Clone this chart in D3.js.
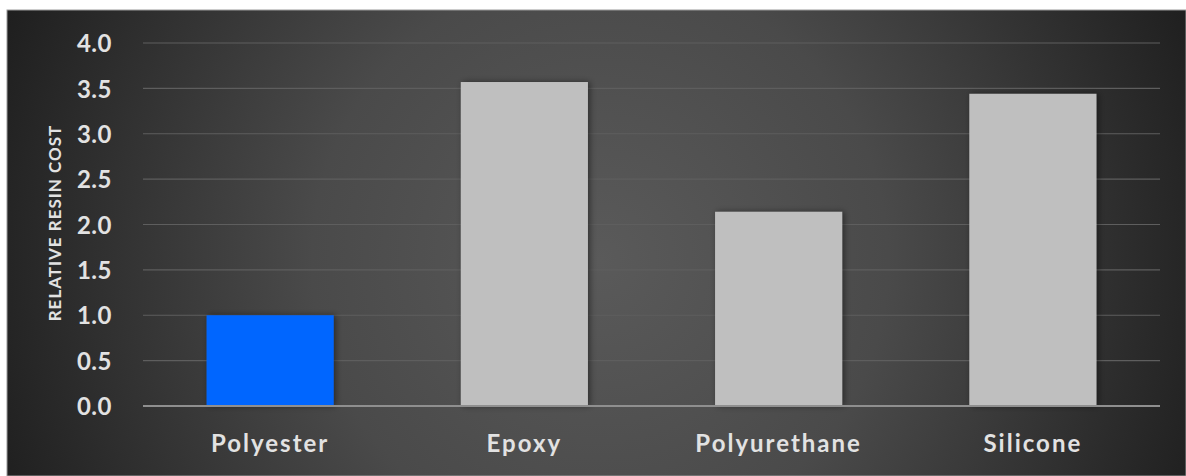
<!DOCTYPE html>
<html>
<head>
<meta charset="utf-8">
<script src="https://cdn.jsdelivr.net/npm/d3@7"></script>
<style>
  html, body { margin: 0; padding: 0; background: #fff; }
  svg { display: block; }
</style>
</head>
<body>
<svg id="chart"></svg>
<script>
// Daten
var categories = ['Polyester', 'Epoxy', 'Polyurethane', 'Silicone'];
var values = [1.0, 3.57, 2.14, 3.44];
var barColors = ['#0066ff', '#bfbfbf', '#bfbfbf', '#bfbfbf'];
var yTicks = [0, 0.5, 1, 1.5, 2, 2.5, 3, 3.5, 4];

var width = 1186, height = 476;
var plot = { left: 143, right: 1160, top: 43, bottom: 406 };
var font = 'Lato, "Open Sans", sans-serif';

var svg = d3.select('#chart')
  .attr('width', width)
  .attr('height', height);

// Hintergrund mit radialem Verlauf
var defs = svg.append('defs');
var grad = defs.append('radialGradient')
  .attr('id', 'bg')
  .attr('gradientUnits', 'userSpaceOnUse')
  .attr('cx', 600).attr('cy', 260).attr('r', 640);
grad.append('stop').attr('offset', '0%').attr('stop-color', '#5a5a5a');
grad.append('stop').attr('offset', '45%').attr('stop-color', '#4a4a4a');
grad.append('stop').attr('offset', '100%').attr('stop-color', '#1f1f1f');

var shadow = defs.append('filter').attr('id', 'shadow')
  .attr('x', '-10%').attr('y', '-10%').attr('width', '130%').attr('height', '130%');
shadow.append('feDropShadow')
  .attr('dx', 2).attr('dy', 0).attr('stdDeviation', 3)
  .attr('flood-color', '#000').attr('flood-opacity', 0.45);

svg.append('rect')
  .attr('x', 7).attr('y', 10)
  .attr('width', width - 7).attr('height', height - 10)
  .attr('fill', 'url(#bg)')
  .attr('stroke', '#9a9a9a').attr('stroke-width', 1);

// Skalen
var x = d3.scaleBand()
  .domain(categories)
  .range([plot.left, plot.right])
  .paddingInner(0.5)
  .paddingOuter(0.25);

var y = d3.scaleLinear()
  .domain([0, 4])
  .range([plot.bottom, plot.top]);

// Gitterlinien
svg.append('g')
  .selectAll('line')
  .data(yTicks.filter(function(d) { return d > 0; }))
  .join('line')
  .attr('x1', plot.left).attr('x2', plot.right)
  .attr('y1', function(d) { return y(d); })
  .attr('y2', function(d) { return y(d); })
  .attr('stroke', '#5e5e5e')
  .attr('stroke-width', 1.2);

// Y-Achse
var yAxis = svg.append('g')
  .attr('transform', 'translate(' + 112 + ',0)')
  .call(d3.axisLeft(y).tickValues(yTicks).tickFormat(d3.format('.1f')).tickSize(0));
yAxis.select('.domain').remove();
yAxis.selectAll('text')
  .attr('x', 0)
  .attr('dy', '0.36em')
  .attr('fill', '#e2e2e2')
  .style('font-family', font)
  .style('font-weight', 'bold')
  .style('font-size', '24px')
  .style('letter-spacing', '0.5px');

// Balken
svg.append('g')
  .selectAll('rect')
  .data(values)
  .join('rect')
  .attr('x', function(d, i) { return x(categories[i]); })
  .attr('y', function(d) { return y(d); })
  .attr('width', x.bandwidth())
  .attr('height', function(d) { return y(0) - y(d); })
  .attr('fill', function(d, i) { return barColors[i]; })
  .attr('filter', 'url(#shadow)');

// Nulllinie
svg.append('line')
  .attr('x1', plot.left).attr('x2', plot.right)
  .attr('y1', y(0)).attr('y2', y(0))
  .attr('stroke', '#8f8f8f')
  .attr('stroke-width', 2);

// X-Achse
var xAxis = svg.append('g')
  .attr('transform', 'translate(0,' + 452 + ')')
  .call(d3.axisBottom(x).tickSize(0));
xAxis.select('.domain').remove();
xAxis.selectAll('text')
  .attr('y', 0)
  .attr('dy', 0)
  .attr('fill', '#e2e2e2')
  .style('font-family', font)
  .style('font-weight', 'bold')
  .style('font-size', '24px')
  .style('letter-spacing', '2px');

// Achsentitel
svg.append('text')
  .attr('transform', 'translate(61,' + 223 + ') rotate(-90)')
  .attr('text-anchor', 'middle')
  .attr('fill', '#e2e2e2')
  .style('font-family', font)
  .style('font-weight', 'bold')
  .style('font-size', '17px')
  .style('letter-spacing', '1px')
  .text('RELATIVE RESIN COST');
</script>
</body>
</html>
